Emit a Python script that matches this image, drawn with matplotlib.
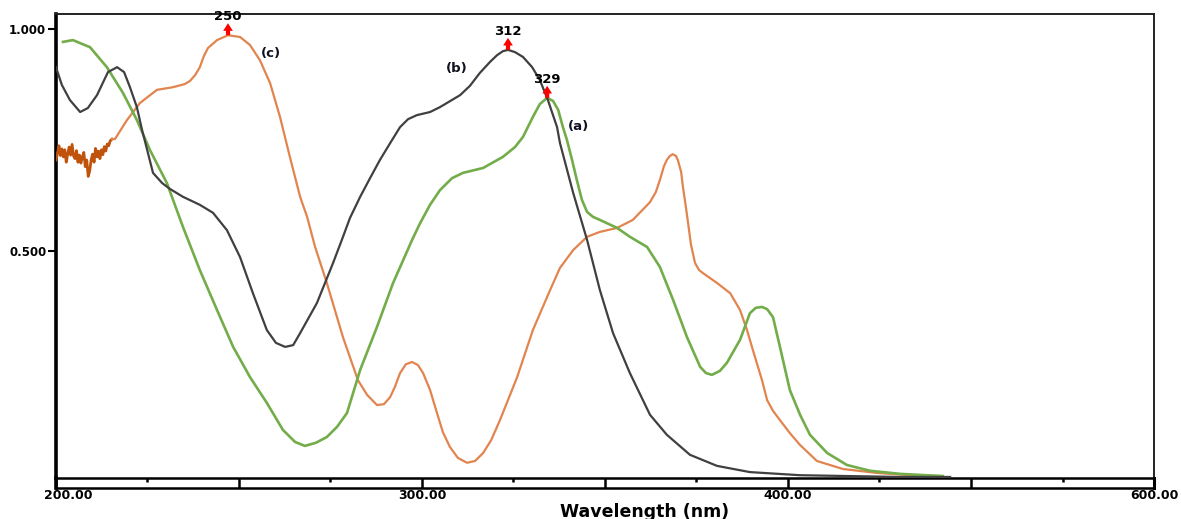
import numpy as np
import matplotlib
matplotlib.use("Agg")
import matplotlib.pyplot as plt
from matplotlib.transforms import ScaledTranslation

# ---------------- data ----------------
# (b) black curve
b_nm = [200.0, 201.6, 203.8, 206.6, 208.7, 211.2, 214.2, 216.7, 218.6, 220.2, 222.1, 223.5,
        224.9, 226.5, 229.0, 231.1, 234.7, 239.3, 242.9, 246.7, 250.3, 253.8, 257.6, 260.1,
        262.6, 264.8, 266.7, 271.3, 275.7, 278.1, 280.3, 283.1, 285.8, 288.5, 291.3, 294.0,
        296.2, 298.6, 302.2, 304.9, 310.4, 313.1, 315.8, 318.6, 320.5, 322.1, 323.5, 325.4,
        327.6, 330.1, 332.2, 334.4, 336.9, 337.7, 341.3, 345.1, 348.6, 352.2, 356.8, 362.3,
        366.9, 373.2, 380.6, 389.6, 403.3, 430.6, 444.3]
b_abs = [0.914, 0.874, 0.840, 0.813, 0.822, 0.851, 0.903, 0.914, 0.903, 0.869, 0.824, 0.773,
         0.728, 0.676, 0.653, 0.640, 0.622, 0.604, 0.586, 0.547, 0.486, 0.405, 0.322, 0.293,
         0.284, 0.288, 0.315, 0.383, 0.473, 0.525, 0.574, 0.622, 0.664, 0.705, 0.743, 0.779,
         0.797, 0.806, 0.813, 0.824, 0.851, 0.872, 0.901, 0.926, 0.941, 0.950, 0.953, 0.948,
         0.937, 0.914, 0.885, 0.840, 0.779, 0.743, 0.631, 0.525, 0.412, 0.315, 0.225, 0.131,
         0.086, 0.041, 0.016, 0.002, -0.005, -0.009, -0.009]

# (a) green curve
a_nm = [201.9, 204.6, 209.3, 213.9, 218.3, 222.1, 225.7, 230.3, 234.7, 239.3, 244.0, 248.4,
        253.0, 257.6, 262.0, 265.3, 268.0, 271.0, 274.0, 276.8, 279.5, 283.1, 287.7, 292.1,
        297.3, 299.5, 302.2, 304.9, 308.2, 311.2, 316.7, 322.1, 325.4, 327.6, 330.3, 332.2,
        334.2, 335.8, 337.2, 338.5, 339.6, 341.0, 342.3, 343.7, 345.1, 346.7, 348.6, 353.3,
        356.8, 361.5, 365.0, 368.6, 372.4, 376.0, 377.6, 379.2, 381.4, 383.3, 386.9, 389.6,
        391.2, 392.9, 394.3, 395.9, 397.8, 400.5, 403.3, 406.0, 410.7, 416.1, 422.4, 430.6,
        442.3]
a_abs = [0.971, 0.975, 0.959, 0.914, 0.856, 0.795, 0.727, 0.653, 0.554, 0.457, 0.367, 0.284,
         0.216, 0.158, 0.097, 0.070, 0.061, 0.068, 0.081, 0.104, 0.135, 0.232, 0.329, 0.428,
         0.525, 0.563, 0.604, 0.637, 0.664, 0.676, 0.687, 0.712, 0.734, 0.757, 0.802, 0.831,
         0.845, 0.838, 0.818, 0.779, 0.750, 0.705, 0.660, 0.615, 0.588, 0.577, 0.570, 0.552,
         0.532, 0.509, 0.464, 0.390, 0.306, 0.239, 0.225, 0.221, 0.230, 0.248, 0.300, 0.360,
         0.372, 0.374, 0.369, 0.351, 0.284, 0.187, 0.131, 0.086, 0.045, 0.018, 0.005, -0.002,
         -0.007]

# (c) orange curve, noisy start
c_noisy_nm = [200.0, 200.4, 200.8, 201.2, 201.6, 202.0, 202.4, 202.8, 203.2, 203.6, 204.0,
              204.4, 204.8, 205.2, 205.6, 206.0, 206.4, 206.8, 207.2, 207.6, 208.0, 208.4,
              208.8, 209.2, 209.6, 210.0, 210.4, 210.8, 211.2, 211.6, 212.0, 212.4, 212.8,
              213.2, 213.6, 214.0, 214.4, 214.8, 215.3]
c_noisy_abs = [0.705, 0.720, 0.737, 0.715, 0.730, 0.712, 0.728, 0.700, 0.719, 0.734, 0.716,
               0.740, 0.714, 0.708, 0.726, 0.700, 0.716, 0.698, 0.712, 0.722, 0.690, 0.705,
               0.668, 0.680, 0.705, 0.718, 0.700, 0.731, 0.712, 0.725, 0.708, 0.728, 0.717,
               0.735, 0.725, 0.741, 0.737, 0.748, 0.752]
# (c) orange curve, smooth part
c_nm = [215.3, 216.1, 219.4, 222.9, 225.7, 227.6, 232.0, 235.2, 236.6, 238.0, 239.3, 240.4,
        241.5, 244.0, 247.0, 250.3, 253.0, 255.7, 258.5, 261.2, 263.9, 266.7, 268.6, 270.8,
        274.0, 278.4, 282.5, 285.0, 287.7, 289.6, 291.3, 292.6, 294.0, 295.6, 297.3, 298.9,
        300.3, 302.2, 304.1, 305.7, 307.6, 309.8, 312.3, 314.5, 316.7, 318.9, 321.3, 326.0,
        330.3, 335.0, 337.7, 341.3, 345.1, 348.6, 353.3, 357.6, 362.3, 363.9, 365.0, 366.1,
        366.9, 367.7, 368.5, 369.4, 369.9, 370.8, 371.3, 372.1, 372.7, 373.5, 374.6, 375.7,
        376.8, 380.6, 384.2, 386.9, 388.8, 390.4, 392.9, 394.3, 395.9, 397.8, 400.5, 403.3,
        407.9, 415.0, 424.3, 433.3, 442.3]
c_abs = [0.752, 0.752, 0.795, 0.833, 0.851, 0.863, 0.869, 0.876, 0.883, 0.896, 0.914, 0.939,
         0.957, 0.975, 0.986, 0.982, 0.964, 0.930, 0.878, 0.802, 0.712, 0.622, 0.577, 0.509,
         0.428, 0.306, 0.209, 0.176, 0.153, 0.155, 0.171, 0.194, 0.225, 0.245, 0.250, 0.243,
         0.225, 0.187, 0.135, 0.092, 0.059, 0.034, 0.023, 0.027, 0.045, 0.074, 0.119, 0.216,
         0.322, 0.412, 0.462, 0.502, 0.532, 0.543, 0.552, 0.570, 0.610, 0.633, 0.660, 0.691,
         0.705, 0.714, 0.718, 0.714, 0.705, 0.678, 0.644, 0.599, 0.563, 0.514, 0.473, 0.457,
         0.450, 0.428, 0.405, 0.367, 0.322, 0.277, 0.209, 0.164, 0.140, 0.119, 0.090, 0.063,
         0.027, 0.009, 0.000, -0.005, -0.007]

x_ticks_major = [200, 250, 300, 350, 400, 450, 500]
x_tick_labels = ["200.00", "", "300.00", "", "400.00", "", "600.00"]
x_ticks_minor = [225, 275, 325, 375, 425, 475]
y_ticks = [0.5, 1.0]
y_tick_labels = ["0.500", "1.000"]
peak_labels = ["250", "312", "329"]
curve_labels = ["(a)", "(b)", "(c)"]

# ---------------- figure ----------------
W, H = 1181, 519
fig = plt.figure(figsize=(W / 100, H / 100), dpi=100)
ax = fig.add_axes([56 / W, (H - 478) / H, 1098 / W, 464 / H])

c_black = "#404040"
c_green = "#72AD4A"
c_orange = "#E2844E"
c_orange_dark = "#C0530C"

ax.plot(c_noisy_nm, c_noisy_abs, color=c_orange_dark, lw=2.0, zorder=3)
ax.plot(c_nm, c_abs, color=c_orange, lw=1.6, zorder=3, solid_joinstyle="round")
ax.plot(a_nm, a_abs, color=c_green, lw=1.9, zorder=4, solid_joinstyle="round")
ax.plot(b_nm, b_abs, color=c_black, lw=1.6, zorder=5, solid_joinstyle="round")

ax.set_xlim(200, 500)
ax.set_ylim(-0.0113, 1.0338)

# spines
for s in ["top", "right"]:
    ax.spines[s].set_linewidth(1.4)
    ax.spines[s].set_color("#222222")
ax.spines["left"].set_linewidth(2.6)
ax.spines["bottom"].set_linewidth(1.8)

# double-line bottom axis box
dy = -10 / 464
ax.plot([0, 1], [dy, dy], transform=ax.transAxes, color="black", lw=1.8, clip_on=False)
ax.plot([0, 0], [dy, 0], transform=ax.transAxes, color="black", lw=2.6, clip_on=False)
ax.plot([1, 1], [dy, 0], transform=ax.transAxes, color="black", lw=2.2, clip_on=False)

ax.set_xticks(x_ticks_major)
ax.set_xticklabels(x_tick_labels, fontsize=9, fontweight="bold")
ax.set_xticks(x_ticks_minor, minor=True)
ax.tick_params(axis="x", which="major", direction="out", length=7.2, width=1.8, pad=0.5)
ax.tick_params(axis="x", which="minor", direction="out", length=3.2, width=1.8)
# first label sits a little to the right of its tick in the reference
first = ax.get_xticklabels()[0]
first.set_transform(first.get_transform() + ScaledTranslation(12 / 100, 0, fig.dpi_scale_trans))

ax.set_yticks(y_ticks)
ax.set_yticklabels(y_tick_labels, fontsize=8.5, fontweight="bold")
ax.tick_params(axis="y", direction="out", length=6, width=1.5, pad=1)

fig.text(645 / W, 1 - 512 / H, "Wavelength (nm)", fontsize=12.5, fontweight="bold",
         ha="center", va="center")

# peak markers
curves = {"a": (np.array(a_nm), np.array(a_abs)),
          "b": (np.array(b_nm), np.array(b_abs)),
          "c": (np.array(c_nm), np.array(c_abs))}
peak_specs = [("c", 200, 300, peak_labels[0]),
              ("b", 290, 400, peak_labels[1]),
              ("a", 290, 400, peak_labels[2])]
arrow_len = 12 / 444
for key, lo, hi, lab in peak_specs:
    xs, ys = curves[key]
    m = (xs >= lo) & (xs <= hi)
    i = np.argmax(np.where(m, ys, -1))
    px, py = xs[i], ys[i]
    ax.annotate("", xy=(px, py + arrow_len), xytext=(px, py),
                arrowprops=dict(arrowstyle="simple,head_width=0.7,head_length=0.55,tail_width=0.3",
                                color="red", lw=0, shrinkA=0, shrinkB=0),
                zorder=6, annotation_clip=False)
    ax.text(px, py + arrow_len, lab, ha="center", va="bottom", fontsize=9.5,
            fontweight="bold", zorder=7, clip_on=False)

# curve labels
label_pos = {"(a)": (579, 126), "(b)": (457, 68), "(c)": (271, 53)}
for lab in curve_labels:
    xp, yp = label_pos[lab]
    ax.text(200 + (xp - 56) * 300 / 1098, 1 - (yp - 29) / 444, lab, ha="center", va="center",
            fontsize=9.5, fontweight="bold", color="#111122")

fig.savefig("out.png", dpi=100)
